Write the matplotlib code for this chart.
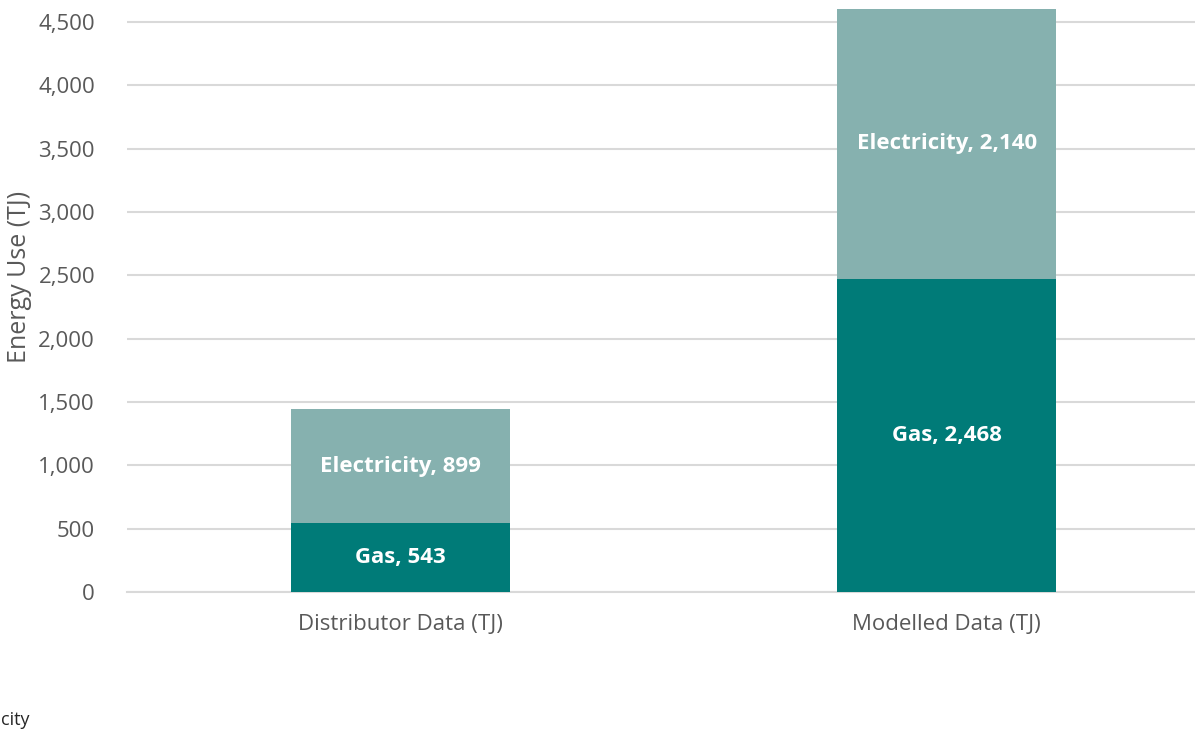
import matplotlib
matplotlib.use("Agg")
import matplotlib.pyplot as plt
from matplotlib.ticker import FuncFormatter, MultipleLocator

categories = ["Distributor Data (TJ)", "Modelled Data (TJ)"]
gas = [543, 2468]
electricity = [899, 2140]
series_names = ["Gas", "Electricity"]

GAS_C = "#007B78"
ELEC_C = "#86B1AF"
TXT = "#595959"

plt.rcParams['font.family'] = ['Open Sans', 'DejaVu Sans']

fig = plt.figure(figsize=(11.95, 7.31), dpi=100)
ax = fig.add_axes([127 / 1195, (731 - 592) / 731, 1093 / 1195, 583 / 731])

x = list(range(len(categories)))
ax.bar(x, gas, width=0.4, color=GAS_C, zorder=3)
ax.bar(x, electricity, bottom=gas, width=0.4, color=ELEC_C, zorder=3)

for i in x:
    ax.text(i, gas[i] / 2, f"{series_names[0]}, {gas[i]:,}", ha="center", va="center",
            color="white", fontsize=16, fontweight="bold", zorder=4)
    ax.text(i, gas[i] + electricity[i] / 2, f"{series_names[1]}, {electricity[i]:,}",
            ha="center", va="center", color="white", fontsize=16, fontweight="bold", zorder=4)

ax.set_xlim(-0.5, 1.5)
ax.set_ylim(0, 4602)
ax.yaxis.set_major_locator(MultipleLocator(500))
ax.yaxis.set_major_formatter(FuncFormatter(lambda v, p: f"{int(v):,}"))
ax.grid(axis="y", color="#D9D9D9", linewidth=1.5, zorder=0)
ax.set_axisbelow(True)
for s in ["top", "right", "left"]:
    ax.spines[s].set_visible(False)
ax.spines["bottom"].set_color("#D9D9D9")
ax.spines["bottom"].set_linewidth(1.5)
ax.tick_params(axis="both", length=0, labelsize=16, labelcolor=TXT)
ax.tick_params(axis="y", pad=23)
ax.tick_params(axis="x", pad=16)
ax.set_xticks(x)
ax.set_xticklabels(categories)
ax.set_ylabel("Energy Use (TJ)", fontsize=18, color=TXT)
ax.yaxis.set_label_coords(-0.087, 0.54)

# end of the legend entry visible at the lower-left edge of the image
fig.text(1 / 1195, 1 - 720 / 731, "city", ha="left", va="center",
         fontsize=13, color="#262626")

fig.savefig("out.png", dpi=100)
